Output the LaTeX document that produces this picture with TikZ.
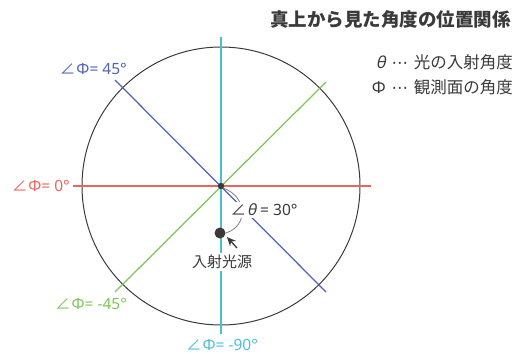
\documentclass[tikz,border=0pt]{standalone}
\usepackage{fontspec}
\setmainfont{Noto Sans CJK JP}
\newfontfamily\latn{Noto Sans}
\newfontfamily\grk[FakeSlant=0.2]{Noto Sans}
\newfontfamily\jpf{Noto Sans CJK JP}
\newfontfamily\dejav{DejaVu Sans}
\usetikzlibrary{arrows.meta}
\definecolor{cblue}{HTML}{4F63B8}
\definecolor{cred}{HTML}{E8665C}
\definecolor{cgreen}{HTML}{7CC65A}
\definecolor{ccyan}{HTML}{4CBFD8}
\definecolor{ctext}{HTML}{3A3A3A}
\newcommand\angsym{{\jpf ∠}\kern1pt}
\newcommand\mydots{\hspace{0.35em}{\dejav ⋯}\hspace{0.35em}}
\begin{document}
\begin{tikzpicture}[x=1pt,y=-1pt,
  lab/.style={font=\fontsize{15.5}{15.5}\selectfont\latn, inner sep=1pt},
  ray/.style={line width=1.25pt},
  legend/.style={font=\fontsize{16.5}{17}\selectfont, text=ctext, anchor=east, inner sep=0pt}]
\useasboundingbox (0,0) rectangle (523,354);
\coordinate (O) at (221,186);
\draw[ctext, line width=1pt] (O) circle[radius=139pt];
% rays
\coordinate (r1) at (73,186);  \coordinate (r2) at (371,186);
\coordinate (g1) at (115,292); \coordinate (g2) at (326,82);
\coordinate (b1) at (115,80);  \coordinate (b2) at (326,292);
\coordinate (c1) at (221,37);  \coordinate (c2) at (221,334);
\draw[ray, cred] (r1) -- (r2);
\draw[ray, cgreen] (g1) -- (g2);
\draw[ray, cblue] (b1) -- (b2);
\draw[ray, ccyan] (c1) -- (c2);
% angle labels
\node[lab, text=cblue, anchor=east] (l45) at (128,69) {\angsym Φ= 45°};
\node[lab, text=cred, anchor=east] (l0) at (71,186) {\angsym Φ= 0°};
\node[lab, text=cgreen] (lm45) at (91,304) {\angsym Φ= -45°};
\node[lab, text=ccyan] (lm90) at (222,344.5) {\angsym Φ= -90°};
% theta arc and label
\node[circle, fill=ctext, inner sep=0pt, minimum size=11pt] (src) at (220,233) {};
\draw[gray, line width=0.8pt] (223,188) .. controls (247,196) and (249,226) .. (src.east);
\node[lab, text=ctext, fill=white, inner sep=2pt] (th) at (264,210) {\angsym{\grk θ} = 30°};
\fill[ctext] (O) circle[radius=3.2pt];
\coordinate (atail) at (237,248);
\draw[-{Stealth[length=9pt,width=8pt]}, line width=1.3pt, ctext] (atail) -- (227,237);
\node[font=\fontsize{15}{15}\selectfont, text=ctext, fill=white, inner sep=2pt] (srclab) at (222,262) {入射光源};
% title and legend
\node[font=\fontsize{18.5}{19}\selectfont\bfseries, text=ctext, anchor=east, inner sep=0pt] (title) at (511,19) {真上から見た角度の位置関係};
\node[legend] (leg1) at (513,62) {{\grk θ}\mydots 光の入射角度};
\node[legend] (leg2) at (513,87) {{\latn Φ}\mydots 観測面の角度};
\end{tikzpicture}
\end{document}
